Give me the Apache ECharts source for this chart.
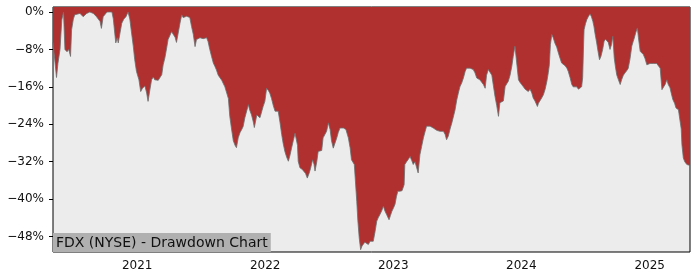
<!DOCTYPE html>
<html>
<head>
<meta charset="utf-8">
<script src="https://cdn.jsdelivr.net/npm/echarts@6/dist/echarts.min.js"></script>
<style>html,body{margin:0;padding:0;background:#fff}#c{width:700px;height:280px}</style>
</head>
<body>
<div id="c"></div>
<script>
const dates = [
"2020-05-06","2020-05-16","2020-05-20","2020-05-26","2020-05-31","2020-06-05","2020-06-09","2020-06-15","2020-06-20","2020-06-25",
"2020-06-28","2020-07-03","2020-07-07","2020-07-22","2020-07-31","2020-08-10","2020-08-19","2020-08-29","2020-09-07","2020-09-17",
"2020-09-21","2020-09-26","2020-10-07","2020-10-15","2020-10-21","2020-10-25","2020-10-29","2020-11-01","2020-11-05","2020-11-08",
"2020-11-13","2020-11-18","2020-11-24","2020-11-30","2020-12-06","2020-12-11","2020-12-16","2020-12-21","2020-12-25","2020-12-30",
"2021-01-06","2021-01-11","2021-01-16","2021-01-23","2021-01-28","2021-02-01","2021-02-06","2021-02-11","2021-02-16","2021-02-20",
"2021-03-02","2021-03-07","2021-03-12","2021-03-16","2021-03-21","2021-03-26","2021-03-30","2021-04-04","2021-04-09","2021-04-14",
"2021-04-19","2021-04-23","2021-05-03","2021-05-08","2021-05-12","2021-05-17","2021-05-22","2021-05-26","2021-05-31","2021-06-05",
"2021-06-10","2021-06-15","2021-06-19","2021-06-24","2021-06-29","2021-07-04","2021-07-08","2021-07-18","2021-07-22","2021-07-27",
"2021-08-01","2021-08-06","2021-08-11","2021-08-15","2021-08-20","2021-08-30","2021-09-08","2021-09-18","2021-09-22","2021-09-27",
"2021-10-02","2021-10-07","2021-10-11","2021-10-16","2021-10-21","2021-10-26","2021-10-30","2021-11-04","2021-11-14","2021-11-18",
"2021-11-23","2021-11-28","2021-12-01","2021-12-08","2021-12-12","2021-12-17","2021-12-23","2021-12-26","2021-12-31","2022-01-05",
"2022-01-10","2022-01-14","2022-01-19","2022-01-24","2022-01-29","2022-02-03","2022-02-07","2022-02-12","2022-02-17","2022-02-21",
"2022-02-26","2022-03-03","2022-03-08","2022-03-13","2022-03-17","2022-03-22","2022-03-27","2022-04-01","2022-04-03","2022-04-05",
"2022-04-10","2022-04-16","2022-04-21","2022-04-26","2022-05-01","2022-05-06","2022-05-10","2022-05-16","2022-05-20","2022-05-23",
"2022-05-28","2022-06-01","2022-06-06","2022-06-11","2022-06-15","2022-06-20","2022-06-25","2022-06-30","2022-07-05","2022-07-09",
"2022-07-14","2022-07-19","2022-07-24","2022-07-28","2022-08-02","2022-08-07","2022-08-12","2022-08-16","2022-08-19","2022-08-26",
"2022-08-31","2022-09-04","2022-09-12","2022-09-15","2022-09-19","2022-09-22","2022-09-26","2022-09-30","2022-10-04","2022-10-08",
"2022-10-12","2022-10-17","2022-10-22","2022-10-27","2022-10-31","2022-11-05","2022-11-10","2022-11-15","2022-11-19","2022-11-24",
"2022-11-29","2022-12-04","2022-12-08","2022-12-13","2022-12-20","2022-12-24","2022-12-28","2023-01-01","2023-01-06","2023-01-10",
"2023-01-14","2023-01-20","2023-01-26","2023-02-01","2023-02-03","2023-02-08","2023-02-13","2023-02-18","2023-02-23","2023-02-27",
"2023-03-04","2023-03-09","2023-03-13","2023-03-18","2023-03-23","2023-03-28","2023-04-02","2023-04-06","2023-04-11","2023-04-16",
"2023-04-21","2023-04-25","2023-04-30","2023-05-05","2023-05-09","2023-05-14","2023-05-19","2023-05-24","2023-05-29","2023-06-02",
"2023-06-07","2023-06-12","2023-06-17","2023-06-21","2023-06-26","2023-07-01","2023-07-05","2023-07-10","2023-07-15","2023-07-20",
"2023-07-25","2023-07-29","2023-08-01","2023-08-08","2023-08-13","2023-08-17","2023-08-22","2023-08-27","2023-09-01","2023-09-05",
"2023-09-10","2023-09-15","2023-09-20","2023-09-24","2023-09-29","2023-10-04","2023-10-09","2023-10-13","2023-10-18","2023-10-23",
"2023-10-28","2023-11-01","2023-11-06","2023-11-11","2023-11-16","2023-11-21","2023-11-25","2023-11-30","2023-12-05","2023-12-09",
"2023-12-14","2023-12-19","2023-12-24","2023-12-28","2024-01-02","2024-01-07","2024-01-12","2024-01-17","2024-01-21","2024-01-26",
"2024-01-31","2024-02-04","2024-02-09","2024-02-16","2024-02-19","2024-02-23","2024-02-28","2024-03-04","2024-03-09","2024-03-14",
"2024-03-18","2024-03-21","2024-03-24","2024-03-28","2024-04-01","2024-04-06","2024-04-11","2024-04-16","2024-04-21","2024-04-25",
"2024-04-30","2024-05-05","2024-05-10","2024-05-14","2024-05-19","2024-05-24","2024-05-28","2024-06-02","2024-06-07","2024-06-12",
"2024-06-17","2024-06-21","2024-06-24","2024-06-27","2024-06-28","2024-07-02","2024-07-06","2024-07-10","2024-07-15","2024-07-19",
"2024-07-23","2024-07-26","2024-07-29","2024-08-03","2024-08-07","2024-08-11","2024-08-15","2024-08-20","2024-08-24","2024-08-28",
"2024-09-01","2024-09-05","2024-09-10","2024-09-14","2024-09-18","2024-09-22","2024-09-25","2024-09-29","2024-10-04","2024-10-09",
"2024-10-13","2024-10-18","2024-10-23","2024-10-28","2024-11-01","2024-11-06","2024-11-11","2024-11-15","2024-11-18","2024-11-22",
"2024-11-27","2024-11-30","2024-12-05","2024-12-10","2024-12-14","2024-12-19","2024-12-24","2024-12-28","2025-01-02","2025-01-07",
"2025-01-12","2025-01-16","2025-01-21","2025-01-26","2025-01-31","2025-02-05","2025-02-09","2025-02-14","2025-02-19","2025-02-23",
"2025-02-28","2025-03-04","2025-03-08","2025-03-13","2025-03-17","2025-03-24","2025-03-29","2025-04-01","2025-04-03","2025-04-07",
"2025-04-11","2025-04-17","2025-04-21","2025-04-26"
];
const drawdown = [
-6.5,-14,-11,-8,-1.7,0,-8,-8.5,-8,-9.5,
-3.8,-1.5,-0.6,-0.3,-1,-0.3,0,-0.3,-1,-2,
-3.5,-1,0,0,0,-1.5,-4.5,-6.6,-5.5,-6.6,
-4.5,-2.4,-1.5,-1,0,-1.5,-4.5,-7.4,-10.2,-12.7,
-14.5,-17,-16.3,-15.8,-17.3,-19.1,-16.7,-14.5,-13.9,-14.5,
-14.6,-14.8,-13.4,-11.3,-9.8,-7.7,-5.9,-5.9,-4.2,-3.8,
-5.4,-6.5,-2.4,-0.6,-1.2,-1.5,-0.9,-0.9,-1.2,-3.1,
-4.8,-7.4,-5.9,-5.7,-5.5,-5.9,-5.7,-5.5,-6.3,-8,
-9.5,-10.9,-11.7,-12.4,-13.5,-14.6,-16,-18.5,-22.3,-25,
-27.5,-28.5,-29,-26.9,-25.8,-25.1,-24.5,-22.6,-19.8,-21,
-22,-23.5,-24.7,-22,-22,-22.6,-21,-20.2,-19.1,-16.3,
-16.8,-17.3,-18.5,-20,-21.2,-20.8,-21.2,-23.5,-26.2,-28,
-29.8,-31,-31.9,-30.5,-29.1,-27.5,-25.9,-25.7,-28.5,-31.9,
-33.3,-33.6,-33.8,-34.5,-35.5,-34.5,-33.5,-31.6,-32.5,-34,
-32,-29.8,-29.5,-29.6,-26.9,-26.2,-25.5,-23.7,-25.1,-27.5,
-29.1,-28,-26.9,-25.8,-24.8,-25,-24.8,-25,-25.1,-26.9,
-29,-31.6,-32.6,-36,-40.5,-44.5,-48.3,-50.8,-50,-49.7,
-49.2,-49.5,-49.7,-49,-49.3,-49,-47,-44.7,-44,-43.3,
-42.5,-41.5,-42.5,-43.3,-44.4,-43.5,-42.6,-42,-41.1,-39.5,
-38.3,-38.3,-38.2,-36.9,-32.6,-32,-31.5,-30.9,-31.8,-32.6,
-32,-32.2,-34.4,-30.5,-28.7,-26.9,-25.5,-24.4,-24.4,-24.4,
-24.6,-24.8,-25.1,-25.3,-25.1,-25.5,-25.1,-25.5,-26.2,-27.3,
-26.5,-25,-23.7,-23.5,-21,-18.8,-17.5,-16,-15.2,-14.1,
-12.7,-12,-11.6,-12,-12,-12.3,-13,-14.1,-14,-14.5,
-15,-15.5,-16.3,-13.5,-12.3,-12.6,-13.5,-15.5,-18,-20,
-22.3,-19.4,-19.2,-19,-15.9,-15.3,-14.8,-13.5,-11.6,-9.5,
-7.3,-7,-14.5,-15,-15.5,-16,-16.5,-16.3,-17,-16.5,
-17.3,-18.4,-19,-20.2,-19.5,-19,-18.4,-17.7,-16.5,-14.8,
-13,-11.3,-7,-4.8,-5.5,-6.7,-7.5,-8.8,-10,-10.9,
-11.3,-11.5,-12,-12.7,-14,-15.5,-16,-16.3,-16,-16.5,
-16.3,-16,-14,-6,-3.8,-2.5,-1.6,-1,-0.4,-1,
-2,-3,-4.5,-6.6,-8.5,-10.2,-9.5,-8,-6.3,-5.8,
-5.6,-6.5,-8,-7,-5.2,-9.8,-11.5,-13.4,-14.5,-15.5,
-14.5,-13.5,-13,-12.5,-12,-10,-7.3,-6.3,-5.6,-4.5,
-3.4,-5.5,-8.4,-8.8,-9.1,-10,-11.3,-11,-11,-11.3,
-11,-11.3,-11,-10.9,-12,-16.6,-16.5,-15.5,-14.5,-15.5,
-16.2,-17.5,-18.7,-19.5,-20.5,-20.9,-21.2,-25,-28.4,-31.2,
-32,-32.6,-32.2,-32.8
];
const yTicks = [0, -8, -16, -24, -32, -40, -48];
const xTickYears = [2021, 2022, 2023, 2024, 2025];
const labelText = "FDX (NYSE) - Drawdown Chart";

function ts(s) { const p = s.split('-').map(Number); return Date.UTC(p[0], p[1] - 1, p[2]); }

const chart = echarts.init(document.getElementById('c'), null, {renderer: 'canvas'});
const font = 'DejaVu Sans';
const xTickVals = xTickYears.map(y => Date.UTC(y, 0, 1));
const option = {
  animation: false,
  backgroundColor: '#ffffff',
  title: {
    text: labelText,
    left: 53, top: 233,
    padding: [3, 3, 2, 3],
    backgroundColor: '#b0b0b0',
    textStyle: {fontFamily: font, fontSize: 14, fontWeight: 'normal', color: '#111111', lineHeight: 14}
  },
  grid: {
    left: 53, right: 10, top: 7, bottom: 28,
    show: true, backgroundColor: '#ececec', borderColor: '#000000', borderWidth: 1
  },
  xAxis: {
    type: 'value',
    min: ts(dates[0]), max: ts(dates[dates.length - 1]),
    axisLine: {show: false},
    splitLine: {show: false},
    axisTick: {show: true, length: 4, lineStyle: {color: '#000'}, customValues: xTickVals},
    axisLabel: {show: true, margin: 8, color: '#111', fontFamily: font, fontSize: 12,
      customValues: xTickVals,
      formatter: v => String(new Date(v).getUTCFullYear())}
  },
  yAxis: {
    type: 'value',
    min: -51.3, max: 1.07,
    axisLine: {show: false},
    splitLine: {show: false},
    axisTick: {show: true, length: 4, lineStyle: {color: '#000'}, customValues: yTicks},
    axisLabel: {show: true, margin: 9, color: '#111', fontFamily: font, fontSize: 12,
      customValues: yTicks,
      formatter: v => (v < 0 ? '\u2212' + Math.abs(v) : String(v)) + '%'}
  },
  series: [{
    type: 'line',
    data: dates.map((d, i) => [ts(d), drawdown[i]]),
    showSymbol: false,
    symbol: 'none',
    lineStyle: {color: 'rgba(110,110,110,0.8)', width: 1},
    areaStyle: {color: '#b03030', opacity: 1, origin: 'end'},
    z: 2
  }]
};
chart.setOption(option);
</script>
</body>
</html>
